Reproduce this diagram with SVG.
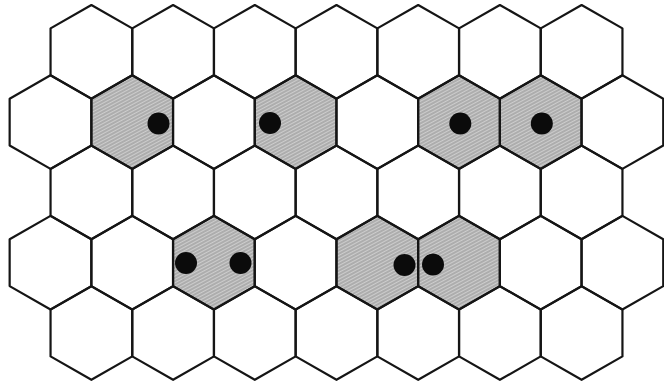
<svg xmlns="http://www.w3.org/2000/svg" xmlns:xlink="http://www.w3.org/1999/xlink" width="664" height="382" viewBox="0 0 664 382">
  <style>
    .cell { fill: none; stroke: #151515; stroke-width: 2.2; stroke-linejoin: round; }
    .shaded { fill: url(#hatch); }
    .dot { fill: #0b0b0b; }
  </style>
  <defs>
    <polygon id="hex" points="0,-46.8 40.85,-23.4 40.85,23.4 0,46.8 -40.85,23.4 -40.85,-23.4"/>
    <pattern id="hatch" patternUnits="userSpaceOnUse" width="6" height="3" patternTransform="rotate(-28)">
      <rect x="0" y="0" width="6" height="3" fill="#cdcdcd"/>
      <line x1="0" y1="1" x2="6" y2="1" stroke="#8e8e8e" stroke-width="1"/>
    </pattern>
  </defs>
  <rect x="0" y="0" width="664" height="382" fill="#ffffff"/>

  <!-- Shaded cells -->
  <g id="shaded-fills">
    <use xlink:href="#hex" class="shaded" transform="translate(132.2,122.1)"/>
    <use xlink:href="#hex" class="shaded" transform="translate(295.6,122.1)"/>
    <use xlink:href="#hex" class="shaded" transform="translate(459,122.1)"/>
    <use xlink:href="#hex" class="shaded" transform="translate(540.7,122.1)"/>
    <use xlink:href="#hex" class="shaded" transform="translate(213.9,262.7)"/>
    <use xlink:href="#hex" class="shaded" transform="translate(377.3,262.7)"/>
    <use xlink:href="#hex" class="shaded" transform="translate(459,262.7)"/>
  </g>

  <!-- Row 1 -->
  <g id="r1c1"><use xlink:href="#hex" class="cell" transform="translate(91.4,51.8)"/></g>
  <g id="r1c2"><use xlink:href="#hex" class="cell" transform="translate(173.1,51.8)"/></g>
  <g id="r1c3"><use xlink:href="#hex" class="cell" transform="translate(254.8,51.8)"/></g>
  <g id="r1c4"><use xlink:href="#hex" class="cell" transform="translate(336.5,51.8)"/></g>
  <g id="r1c5"><use xlink:href="#hex" class="cell" transform="translate(418.2,51.8)"/></g>
  <g id="r1c6"><use xlink:href="#hex" class="cell" transform="translate(499.9,51.8)"/></g>
  <g id="r1c7"><use xlink:href="#hex" class="cell" transform="translate(581.6,51.8)"/></g>

  <!-- Row 2 -->
  <g id="r2c1"><use xlink:href="#hex" class="cell" transform="translate(50.5,122.1)"/></g>
  <g id="r2c2"><use xlink:href="#hex" class="cell" transform="translate(132.2,122.1)"/></g>
  <g id="r2c3"><use xlink:href="#hex" class="cell" transform="translate(213.9,122.1)"/></g>
  <g id="r2c4"><use xlink:href="#hex" class="cell" transform="translate(295.6,122.1)"/></g>
  <g id="r2c5"><use xlink:href="#hex" class="cell" transform="translate(377.3,122.1)"/></g>
  <g id="r2c6"><use xlink:href="#hex" class="cell" transform="translate(459,122.1)"/></g>
  <g id="r2c7"><use xlink:href="#hex" class="cell" transform="translate(540.7,122.1)"/></g>
  <g id="r2c8"><use xlink:href="#hex" class="cell" transform="translate(622.4,122.1)"/></g>

  <!-- Row 3 -->
  <g id="r3c1"><use xlink:href="#hex" class="cell" transform="translate(91.4,192.4)"/></g>
  <g id="r3c2"><use xlink:href="#hex" class="cell" transform="translate(173.1,192.4)"/></g>
  <g id="r3c3"><use xlink:href="#hex" class="cell" transform="translate(254.8,192.4)"/></g>
  <g id="r3c4"><use xlink:href="#hex" class="cell" transform="translate(336.5,192.4)"/></g>
  <g id="r3c5"><use xlink:href="#hex" class="cell" transform="translate(418.2,192.4)"/></g>
  <g id="r3c6"><use xlink:href="#hex" class="cell" transform="translate(499.9,192.4)"/></g>
  <g id="r3c7"><use xlink:href="#hex" class="cell" transform="translate(581.6,192.4)"/></g>

  <!-- Row 4 -->
  <g id="r4c1"><use xlink:href="#hex" class="cell" transform="translate(50.5,262.7)"/></g>
  <g id="r4c2"><use xlink:href="#hex" class="cell" transform="translate(132.2,262.7)"/></g>
  <g id="r4c3"><use xlink:href="#hex" class="cell" transform="translate(213.9,262.7)"/></g>
  <g id="r4c4"><use xlink:href="#hex" class="cell" transform="translate(295.6,262.7)"/></g>
  <g id="r4c5"><use xlink:href="#hex" class="cell" transform="translate(377.3,262.7)"/></g>
  <g id="r4c6"><use xlink:href="#hex" class="cell" transform="translate(459,262.7)"/></g>
  <g id="r4c7"><use xlink:href="#hex" class="cell" transform="translate(540.7,262.7)"/></g>
  <g id="r4c8"><use xlink:href="#hex" class="cell" transform="translate(622.4,262.7)"/></g>

  <!-- Row 5 -->
  <g id="r5c1"><use xlink:href="#hex" class="cell" transform="translate(91.4,333)"/></g>
  <g id="r5c2"><use xlink:href="#hex" class="cell" transform="translate(173.1,333)"/></g>
  <g id="r5c3"><use xlink:href="#hex" class="cell" transform="translate(254.8,333)"/></g>
  <g id="r5c4"><use xlink:href="#hex" class="cell" transform="translate(336.5,333)"/></g>
  <g id="r5c5"><use xlink:href="#hex" class="cell" transform="translate(418.2,333)"/></g>
  <g id="r5c6"><use xlink:href="#hex" class="cell" transform="translate(499.9,333)"/></g>
  <g id="r5c7"><use xlink:href="#hex" class="cell" transform="translate(581.6,333)"/></g>

  <!-- Dots -->
  <g id="dots">
    <circle class="dot" cx="158.5" cy="123.5" r="11"/>
    <circle class="dot" cx="270" cy="123" r="11"/>
    <circle class="dot" cx="460.3" cy="123.5" r="11"/>
    <circle class="dot" cx="541.8" cy="123.5" r="11"/>
    <circle class="dot" cx="186" cy="263" r="11"/>
    <circle class="dot" cx="240.5" cy="263" r="11"/>
    <circle class="dot" cx="404.5" cy="265" r="11"/>
    <circle class="dot" cx="433" cy="264.5" r="11"/>
  </g>
</svg>
